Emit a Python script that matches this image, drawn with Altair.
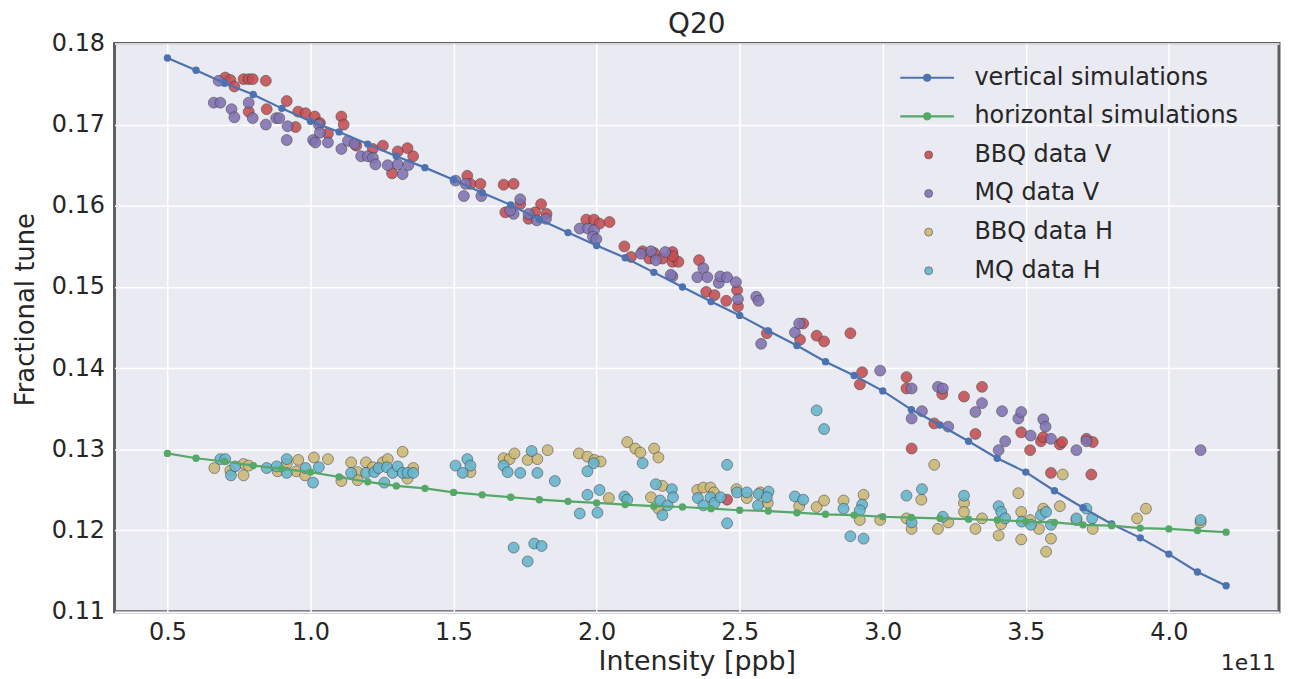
import altair as alt
import pandas as pd

# ---------------- data (intensity in units of 1e11 ppb) ----------------
sim_x = [0.5, 0.6, 0.7, 0.8, 0.9, 1.0, 1.1, 1.2, 1.3, 1.4, 1.5, 1.6, 1.7, 1.8,
         1.9, 2.0, 2.1, 2.2, 2.3, 2.4, 2.5, 2.6, 2.7, 2.8, 2.9, 3.0, 3.1, 3.2,
         3.3, 3.4, 3.5, 3.6, 3.7, 3.8, 3.9, 4.0, 4.1, 4.2]
vert_sim = [0.1782, 0.1767, 0.1751, 0.1737, 0.1720, 0.1704, 0.1691, 0.1676,
            0.1661, 0.1647, 0.1632, 0.1616, 0.1601, 0.1583, 0.1567, 0.1551,
            0.1536, 0.1518, 0.1500, 0.1482, 0.1465, 0.1446, 0.1428, 0.1408,
            0.1391, 0.1372, 0.1349, 0.1330, 0.1310, 0.1289, 0.1272, 0.1249,
            0.1228, 0.1208, 0.1191, 0.1171, 0.1149, 0.1132]
horiz_sim = [0.1295, 0.1289, 0.1285, 0.1280, 0.1276, 0.1272, 0.1266, 0.1260,
             0.1255, 0.1252, 0.1247, 0.1244, 0.1241, 0.1238, 0.1236, 0.1234,
             0.1232, 0.1230, 0.1229, 0.1227, 0.1225, 0.1224, 0.1222, 0.1220,
             0.1219, 0.1217, 0.1216, 0.1215, 0.1214, 0.1213, 0.1211, 0.1210,
             0.1207, 0.1206, 0.1203, 0.1202, 0.1200, 0.1198]

bbqv_x = [0.702, 0.720, 0.734, 0.766, 0.784, 0.798, 0.844, 0.784, 0.847, 0.917,
          0.957, 0.983, 1.015, 0.948, 1.033, 1.061, 1.108, 1.116, 1.160, 1.218,
          1.253, 1.285, 1.305, 1.339, 1.359, 1.548, 1.559, 1.594, 1.675, 1.681,
          1.710, 1.733, 1.806, 1.825, 1.762, 1.785, 1.964, 1.991, 2.010, 2.045,
          2.097, 2.120, 2.161, 2.184, 2.201, 2.230, 2.265, 2.265, 2.286, 2.267,
          2.358, 2.383, 2.412, 2.453, 2.491, 2.494, 2.595, 2.722, 2.711, 2.769,
          2.795, 2.887, 2.928, 2.920, 2.456, 3.083, 3.083, 3.101, 3.180, 3.208,
          3.284, 3.347, 3.324, 3.484, 3.515, 3.553, 3.561, 3.588, 3.619, 3.627,
          3.712, 3.734, 3.729]
bbqv_y = [0.1758, 0.1755, 0.1747, 0.1756, 0.1756, 0.1756, 0.1754, 0.1716, 0.1719, 0.1729,
          0.1716, 0.1714, 0.1710, 0.1697, 0.1702, 0.1689, 0.1710, 0.1700, 0.1674, 0.1670,
          0.1674, 0.1640, 0.1667, 0.1671, 0.1661, 0.1637, 0.1627, 0.1627, 0.1626, 0.1592,
          0.1627, 0.1602, 0.1602, 0.1590, 0.1584, 0.1592, 0.1583, 0.1583, 0.1578, 0.1580,
          0.1550, 0.1537, 0.1544, 0.1535, 0.1542, 0.1535, 0.1543, 0.1531, 0.1531, 0.1538,
          0.1533, 0.1494, 0.1490, 0.1483, 0.1496, 0.1476, 0.1443, 0.1455, 0.1435, 0.1440,
          0.1433, 0.1443, 0.1395, 0.1380, 0.1238, 0.1389, 0.1375, 0.1301, 0.1332, 0.1368,
          0.1365, 0.1377, 0.1319, 0.1321, 0.1299, 0.1310, 0.1315, 0.1271, 0.1306, 0.1309,
          0.1313, 0.1309, 0.1269]

mqv_x = [0.662, 0.685, 0.679, 0.724, 0.734, 0.784, 0.798, 0.844, 0.880, 0.891,
         0.917, 0.920, 1.009, 1.017, 1.029, 1.033, 1.061, 1.108, 1.131, 1.154,
         1.177, 1.200, 1.218, 1.227, 1.270, 1.305, 1.322, 1.342, 1.507, 1.536,
         1.597, 1.542, 1.733, 1.710, 1.698, 1.762, 1.791, 1.823, 1.941, 1.970,
         1.991, 1.987, 1.999, 2.155, 2.190, 2.207, 2.240, 2.265, 2.259, 2.352,
         2.373, 2.387, 2.427, 2.432, 2.456, 2.487, 2.494, 2.558, 2.566, 2.575,
         2.693, 2.708, 2.991, 3.101, 3.101, 3.137, 3.193, 3.210, 3.229, 3.324,
         3.347, 3.417, 3.428, 3.405, 3.474, 3.484, 3.517, 3.561, 3.569, 3.588,
         3.677, 3.712, 4.111]
mqv_y = [0.1727, 0.1727, 0.1754, 0.1719, 0.1709, 0.1727, 0.1708, 0.1700, 0.1708, 0.1708,
         0.1681, 0.1698, 0.1681, 0.1678, 0.1700, 0.1690, 0.1678, 0.1670, 0.1680, 0.1676,
         0.1661, 0.1661, 0.1659, 0.1651, 0.1650, 0.1651, 0.1639, 0.1650, 0.1631, 0.1612,
         0.1612, 0.1627, 0.1608, 0.1590, 0.1594, 0.1590, 0.1582, 0.1584, 0.1572, 0.1572,
         0.1570, 0.1562, 0.1559, 0.1541, 0.1544, 0.1533, 0.1543, 0.1513, 0.1515, 0.1512,
         0.1523, 0.1512, 0.1505, 0.1513, 0.1512, 0.1506, 0.1485, 0.1488, 0.1483, 0.1430,
         0.1444, 0.1455, 0.1397, 0.1375, 0.1338, 0.1347, 0.1377, 0.1375, 0.1328, 0.1346,
         0.1357, 0.1347, 0.1310, 0.1299, 0.1338, 0.1346, 0.1317, 0.1337, 0.1328, 0.1313,
         0.1299, 0.1310, 0.1299]

bbqh_x = [0.664, 0.766, 0.720, 0.766, 0.784, 0.885, 0.917, 0.957, 0.951, 0.981,
          1.012, 1.061, 1.108, 1.142, 1.165, 1.165, 1.194, 1.218, 1.253, 1.270,
          1.322, 1.339, 1.359, 1.559, 1.675, 1.696, 1.713, 1.759, 1.793, 1.829,
          1.938, 1.968, 1.993, 2.014, 2.043, 2.107, 2.135, 2.153, 2.201, 2.216,
          2.190, 2.230, 2.216, 2.352, 2.373, 2.398, 2.410, 2.489, 2.525, 2.572,
          2.598, 2.708, 2.769, 2.795, 2.863, 2.933, 2.920, 2.991, 3.083, 3.101,
          3.135, 3.180, 3.193, 3.229, 3.284, 3.284, 3.324, 3.347, 3.405, 3.414,
          3.474, 3.484, 3.484, 3.515, 3.546, 3.561, 3.571, 3.588, 3.619, 3.629,
          3.677, 3.734, 3.889, 3.920, 4.111]
bbqh_y = [0.1277, 0.1268, 0.1274, 0.1282, 0.1280, 0.1273, 0.1282, 0.1287, 0.1273, 0.1268,
          0.1290, 0.1288, 0.1261, 0.1284, 0.1272, 0.1262, 0.1284, 0.1278, 0.1284, 0.1288,
          0.1297, 0.1264, 0.1277, 0.1272, 0.1289, 0.1288, 0.1295, 0.1287, 0.1288, 0.1299,
          0.1295, 0.1291, 0.1287, 0.1285, 0.1240, 0.1309, 0.1301, 0.1296, 0.1301, 0.1290,
          0.1241, 0.1255, 0.1227, 0.1250, 0.1253, 0.1253, 0.1247, 0.1251, 0.1240, 0.1247,
          0.1234, 0.1230, 0.1229, 0.1237, 0.1237, 0.1244, 0.1213, 0.1213, 0.1215, 0.1202,
          0.1238, 0.1281, 0.1202, 0.1210, 0.1234, 0.1223, 0.1202, 0.1215, 0.1194, 0.1208,
          0.1246, 0.1223, 0.1189, 0.1213, 0.1202, 0.1227, 0.1174, 0.1190, 0.1230, 0.1269,
          0.1213, 0.1202, 0.1215, 0.1227, 0.1210]

mqh_x = [0.685, 0.702, 0.722, 0.737, 0.847, 0.882, 0.917, 0.917, 0.983, 1.009,
         1.029, 1.142, 1.194, 1.223, 1.238, 1.258, 1.267, 1.287, 1.305, 1.322,
         1.339, 1.359, 1.507, 1.548, 1.532, 1.559, 1.675, 1.689, 1.733, 1.773,
         1.793, 1.854, 1.710, 1.759, 1.782, 1.808, 1.968, 1.990, 2.010, 1.968,
         1.941, 2.003, 2.097, 2.107, 2.161, 2.207, 2.222, 2.230, 2.248, 2.263,
         2.267, 2.354, 2.373, 2.398, 2.412, 2.433, 2.456, 2.456, 2.491, 2.525,
         2.566, 2.564, 2.601, 2.595, 2.693, 2.722, 2.769, 2.795, 2.863, 2.887,
         2.933, 2.928, 2.920, 3.083, 3.137, 3.101, 3.210, 3.284, 3.405, 3.414,
         3.428, 3.486, 3.518, 3.553, 3.571, 3.588, 3.677, 3.712, 3.732, 4.111]
mqh_y = [0.1288, 0.1288, 0.1268, 0.1279, 0.1277, 0.1279, 0.1288, 0.1271, 0.1277, 0.1259,
         0.1278, 0.1271, 0.1271, 0.1272, 0.1277, 0.1259, 0.1278, 0.1271, 0.1279, 0.1271,
         0.1271, 0.1271, 0.1280, 0.1288, 0.1271, 0.1280, 0.1280, 0.1272, 0.1271, 0.1298,
         0.1271, 0.1261, 0.1179, 0.1162, 0.1184, 0.1181, 0.1273, 0.1283, 0.1250, 0.1244,
         0.1221, 0.1222, 0.1242, 0.1238, 0.1283, 0.1257, 0.1237, 0.1219, 0.1231, 0.1251,
         0.1241, 0.1240, 0.1231, 0.1241, 0.1234, 0.1241, 0.1281, 0.1209, 0.1247, 0.1247,
         0.1245, 0.1231, 0.1248, 0.1241, 0.1242, 0.1238, 0.1348, 0.1325, 0.1227, 0.1193,
         0.1190, 0.1232, 0.1225, 0.1243, 0.1251, 0.1210, 0.1217, 0.1243, 0.1230, 0.1223,
         0.1215, 0.1211, 0.1207, 0.1219, 0.1223, 0.1207, 0.1215, 0.1227, 0.1215, 0.1213]

x_ticks = [0.5, 1.0, 1.5, 2.0, 2.5, 3.0, 3.5, 4.0]
y_ticks = [0.11, 0.12, 0.13, 0.14, 0.15, 0.16, 0.17, 0.18]

line_labels = ["vertical simulations", "horizontal simulations"]
line_colors = ["#4C72B0", "#55A868"]
pt_labels = ["BBQ data V", "MQ data V", "BBQ data H", "MQ data H"]
pt_colors = ["#C44E52", "#8172B2", "#CCB974", "#64B5CD"]

# ---------------- tables ----------------
sim_df = pd.DataFrame({
    "x": sim_x + sim_x,
    "y": vert_sim + horiz_sim,
    "series": [line_labels[0]] * len(sim_x) + [line_labels[1]] * len(sim_x),
})
parts = []
for lab, xs, ys in zip(pt_labels, [bbqv_x, mqv_x, bbqh_x, mqh_x],
                       [bbqv_y, mqv_y, bbqh_y, mqh_y]):
    parts.append(pd.DataFrame({"x": xs, "y": ys, "series": lab}))
pts_df = pd.concat(parts, ignore_index=True)

W, H = 1170, 571
TXT = "#262626"

xscale = alt.Scale(domain=[0.315, 4.385], nice=False, zero=False)
yscale = alt.Scale(domain=[0.11, 0.18], nice=False, zero=False)

xaxis = alt.Axis(values=x_ticks, format=".1f", title="Intensity [ppb]",
                 grid=True, gridColor="white", gridWidth=1.5, ticks=False,
                 domain=False, labelFontSize=24, labelColor=TXT, labelPadding=9,
                 titleFontSize=27, titleColor=TXT, titleFontWeight="normal",
                 titlePadding=4)
yaxis = alt.Axis(values=y_ticks, format=".2f", title="Fractional tune",
                 grid=True, gridColor="white", gridWidth=1.5, ticks=False,
                 domain=False, labelFontSize=24, labelColor=TXT, labelPadding=10,
                 titleFontSize=26, titleColor=TXT, titleFontWeight="normal",
                 titlePadding=13, titleY=267)

# legend handle for the simulation lines: a stroke with a filled dot
line_sym = ("M-2.7,0H2.7"
            "M0.3,0A0.3,0.3,0,1,1,-0.3,0A0.3,0.3,0,1,1,0.3,0"
            "M0.2,0A0.2,0.2,0,1,1,-0.2,0A0.2,0.2,0,1,1,0.2,0"
            "M0.1,0A0.1,0.1,0,1,1,-0.1,0A0.1,0.1,0,1,1,0.1,0")

points = alt.Chart(pts_df).mark_circle(
    size=120, opacity=0.88, stroke="#3a3a3a", strokeWidth=0.6
).encode(
    x=alt.X("x:Q", scale=xscale, axis=xaxis),
    y=alt.Y("y:Q", scale=yscale, axis=yaxis),
    fill=alt.Fill("series:N", sort=pt_labels,
                  scale=alt.Scale(domain=pt_labels, range=pt_colors),
                  legend=alt.Legend(title=None, orient="none", legendX=806,
                                    legendY=100, direction="vertical",
                                    symbolType="circle", symbolSize=64,
                                    symbolStrokeColor="#3a3a3a",
                                    symbolStrokeWidth=0.6, symbolOpacity=0.9,
                                    labelFontSize=24, labelColor=TXT,
                                    labelLimit=500,
                                    labelOffset=34, rowPadding=14.8, padding=0)),
)

lines = alt.Chart(sim_df).mark_line(
    strokeWidth=2.2, point=alt.OverlayMarkDef(filled=True, size=55)
).encode(
    x=alt.X("x:Q", scale=xscale, axis=xaxis),
    y=alt.Y("y:Q", scale=yscale, axis=yaxis),
    color=alt.Color("series:N", sort=line_labels,
                    scale=alt.Scale(domain=line_labels, range=line_colors),
                    legend=alt.Legend(title=None, orient="none", legendX=804.5,
                                      legendY=22.5, direction="vertical",
                                      symbolType=line_sym, symbolSize=400,
                                      symbolStrokeWidth=2.2,
                                      labelFontSize=24, labelColor=TXT,
                                      labelLimit=500,
                                      labelOffset=35.5, rowPadding=14.8, padding=0)),
)

exp_label = alt.Chart(pd.DataFrame({"t": ["1e11"]})).mark_text(
    align="right", baseline="middle", fontSize=22, color=TXT
).encode(x=alt.value(W - 3), y=alt.value(H + 52), text="t:N")

chart = alt.layer(points, lines, exp_label).properties(
    width=W, height=H,
    title=alt.TitleParams("Q20", fontSize=28, fontWeight="normal", color=TXT,
                          offset=-8, anchor="middle"),
    padding={"left": 107, "top": 34, "right": 2, "bottom": 66},
    autosize=alt.AutoSizeParams(type="none"),
).configure(
    font="DejaVu Sans", background="white",
    view=alt.ViewConfig(fill="#EAEAF2", stroke="#5f5f5f", strokeWidth=3),
)

chart.save("out.html", embed_options={"renderer": "svg", "actions": False})
